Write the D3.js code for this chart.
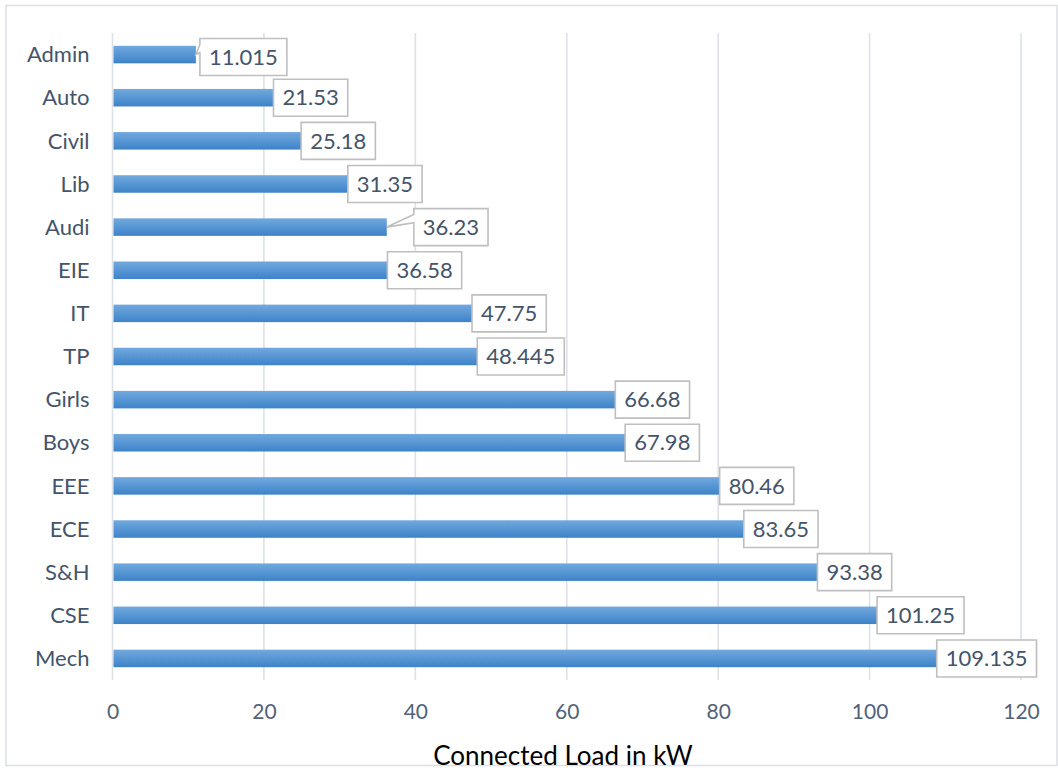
<!DOCTYPE html>
<html>
<head>
<meta charset="utf-8">
<script src="https://cdn.jsdelivr.net/npm/d3@7/dist/d3.min.js"></script>
<style>
  html, body { margin: 0; padding: 0; background: #fff; }
  svg { display: block; }
</style>
</head>
<body>
<div id="chart"></div>
<script>
// Connected load per department (kW)
const departments = ["Admin", "Auto", "Civil", "Lib", "Audi", "EIE", "IT", "TP",
                     "Girls", "Boys", "EEE", "ECE", "S&H", "CSE", "Mech"];
const loadKW = [11.015, 21.53, 25.18, 31.35, 36.23, 36.58, 47.75, 48.445,
                66.68, 67.98, 80.46, 83.65, 93.38, 101.25, 109.135];
const xTicks = [0, 20, 40, 60, 80, 100, 120];
const axisTitle = "Connected Load in kW";

const W = 1058, H = 770;
const plot = { left: 112.5, right: 1021, top: 33, bottom: 680 };
const FONT = "Lato, 'Open Sans', sans-serif";
const textColor = "#44546a";

// Extra horizontal shift for labels that would otherwise collide
const labelShift = { Admin: 6, Audi: 29 };
const labelLift = { Admin: 2.5 };

const data = departments.map((d, i) => ({ name: d, value: loadKW[i] }));

const svg = d3.select("#chart").append("svg")
  .attr("width", W).attr("height", H);

const defs = svg.append("defs");
const grad = defs.append("linearGradient")
  .attr("id", "barFill").attr("x1", 0).attr("y1", 0).attr("x2", 0).attr("y2", 1);
grad.append("stop").attr("offset", "0%").attr("stop-color", "#72a9de");
grad.append("stop").attr("offset", "100%").attr("stop-color", "#3d83c9");

// Outer frame
svg.append("rect")
  .attr("x", 6).attr("y", 5.5).attr("width", 1051).attr("height", 760)
  .attr("fill", "#fff").attr("stroke", "#dcdfe4").attr("stroke-width", 1.5);

const x = d3.scaleLinear().domain([0, 120]).range([plot.left, plot.right]);
const y = d3.scaleBand().domain(departments)
  .range([plot.top, plot.bottom]).paddingInner(0.594).paddingOuter(0.297);

// Vertical gridlines
svg.append("g").selectAll("line").data(xTicks).join("line")
  .attr("x1", d => x(d)).attr("x2", d => x(d))
  .attr("y1", plot.top).attr("y2", plot.bottom)
  .attr("stroke", "#dde1e8").attr("stroke-width", 1.6);

// X axis tick labels
const xAxis = d3.axisBottom(x).tickValues(xTicks).tickSize(0).tickPadding(0);
const gx = svg.append("g").attr("transform", `translate(0, ${plot.bottom})`).call(xAxis);
gx.select(".domain").remove();
gx.selectAll("text")
  .attr("y", 32).attr("dy", "0.35em")
  .attr("font-family", FONT).attr("font-size", 21).attr("fill", "#526279");

// Y axis category labels
const yAxis = d3.axisLeft(y).tickSize(0).tickPadding(0);
const gy = svg.append("g").attr("transform", `translate(${plot.left - 23}, 0)`).call(yAxis);
gy.select(".domain").remove();
gy.selectAll("text")
  .attr("dy", "0.35em")
  .attr("font-family", FONT).attr("font-size", 22).attr("fill", textColor);

// Bars
svg.append("g").selectAll("rect").data(data).join("rect")
  .attr("x", x(0) + 1)
  .attr("y", d => y(d.name))
  .attr("width", d => x(d.value) - x(0) - 1)
  .attr("height", y.bandwidth())
  .attr("fill", "url(#barFill)");

// Callout data labels
const lbl = svg.append("g");
data.forEach(d => {
  const ax = x(d.value), ay = y(d.name) + y.bandwidth() / 2;
  const g = lbl.append("g");
  const t = g.append("text")
    .text(String(d.value))
    .attr("font-family", FONT).attr("font-size", 22).attr("fill", textColor)
    .attr("dy", "0.35em");
  const tw = t.node().getComputedTextLength();
  const bw = tw + 18, bh = 37;
  const bx = ax - 2 + (labelShift[d.name] || 0);
  const by = ay - bh / 2 + (labelLift[d.name] || 0);
  let b1, b2;
  if (ax < bx - 3) { b1 = by + 6; b2 = by + 14; }
  else { b1 = ay - 4; b2 = ay + 4; }
  const path = `M${bx},${by} H${bx + bw} V${by + bh} H${bx} V${b2} L${Math.min(ax, bx)},${ay} L${bx},${b1} Z`;
  g.insert("path", "text")
    .attr("d", path).attr("fill", "#fff")
    .attr("stroke", "#bfbfbf").attr("stroke-width", 1.6)
    .attr("stroke-linejoin", "miter");
  t.attr("x", bx + bw / 2).attr("y", by + bh / 2).attr("text-anchor", "middle");
});

// Axis title
svg.append("text")
  .attr("x", 563).attr("y", 765)
  .attr("text-anchor", "middle")
  .attr("font-family", FONT).attr("font-size", 26).attr("fill", "#000")
  .text(axisTitle);
</script>
</body>
</html>
